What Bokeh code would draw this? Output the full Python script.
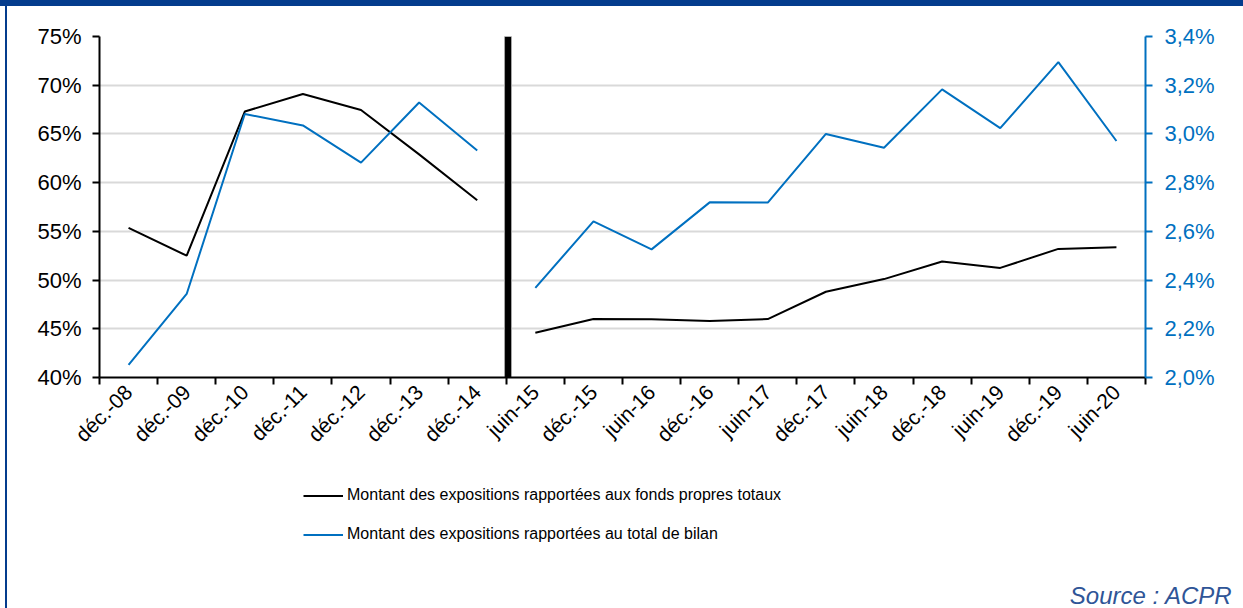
import math
from bokeh.plotting import figure
from bokeh.layouts import column, row
from bokeh.models import (Range1d, LinearAxis, FixedTicker, Legend, LegendItem,
                          Title, Div, Spacer)
from bokeh.embed import file_html
from bokeh.resources import INLINE

# ---------------- data ----------------
categories = ["déc.-08", "déc.-09", "déc.-10", "déc.-11", "déc.-12", "déc.-13", "déc.-14",
              "juin-15", "déc.-15", "juin-16", "déc.-16", "juin-17", "déc.-17", "juin-18",
              "déc.-18", "juin-19", "déc.-19", "juin-20"]
fonds_propres = [55.35, 52.5, 67.3, 69.1, 67.45, 62.9, 58.2,
                 44.6, 46.0, 45.98, 45.8, 46.0, 48.8, 50.1, 51.9, 51.25, 53.2, 53.36]
total_bilan = [2.052, 2.343, 3.082, 3.035, 2.882, 3.129, 2.932,
               2.368, 2.641, 2.526, 2.719, 2.718, 3.0, 2.943, 3.183, 3.024, 3.295, 2.971]
split_index = 7  # break between déc.-14 and juin-15
left_ticks = [40, 45, 50, 55, 60, 65, 70, 75]
left_tick_labels = ["40%", "45%", "50%", "55%", "60%", "65%", "70%", "75%"]
right_ticks = [2.0, 2.2, 2.4, 2.6, 2.8, 3.0, 3.2, 3.4]
right_tick_labels = ["2,0%", "2,2%", "2,4%", "2,6%", "2,8%", "3,0%", "3,2%", "3,4%"]
series_names = ["Montant des expositions rapportées aux fonds propres totaux",
                "Montant des expositions rapportées au total de bilan"]
source_text = "Source : ACPR"

# ---------------- styles ----------------
FONT = "Liberation Sans"
BLUE = "#0070C0"
FRAME = "#043C8D"
PAGE_W, PAGE_H = 1243, 608
BAR_H = 6
W = PAGE_W - 7
H1 = 460
H2 = PAGE_H - BAR_H - H1
SRC_PANEL = 28

n = len(categories)
xc = [i + 0.5 for i in range(n)]

p = figure(width=W, height=H1, output_backend="svg", toolbar_location=None,
           x_range=Range1d(0, n), y_range=Range1d(left_ticks[0], left_ticks[-1]),
           min_border_left=92, min_border_right=98, min_border_top=30, min_border_bottom=89)
p.title = None
p.extra_y_ranges = {"right": Range1d(right_ticks[0], right_ticks[-1])}
p.outline_line_color = None
p.background_fill_color = "white"
p.border_fill_color = "white"

# grid
yt = FixedTicker(ticks=left_ticks)
p.xgrid.grid_line_color = None
p.ygrid.ticker = yt
p.ygrid.grid_line_color = "#d9d9d9"
p.ygrid.grid_line_width = 2

# left axis
ya = p.yaxis[0]
ya.ticker = yt
ya.major_label_overrides = {t: l for t, l in zip(left_ticks, left_tick_labels)}
ya.major_label_text_font = FONT
ya.major_label_text_font_size = "22px"
ya.major_label_text_color = "black"
ya.axis_line_color = "black"
ya.axis_line_width = 2
ya.major_tick_line_color = "black"
ya.major_tick_line_width = 2
ya.major_tick_out = 7
ya.major_tick_in = 0
ya.minor_tick_line_color = None
ya.major_label_standoff = 11

# right axis
ra = LinearAxis(y_range_name="right", ticker=FixedTicker(ticks=right_ticks))
ra.major_label_overrides = {t: l for t, l in zip(right_ticks, right_tick_labels)}
ra.major_label_text_font = FONT
ra.major_label_text_font_size = "22px"
ra.major_label_text_color = BLUE
ra.axis_line_color = BLUE
ra.axis_line_width = 2
ra.major_tick_line_color = BLUE
ra.major_tick_line_width = 2
ra.major_tick_out = 7
ra.major_tick_in = 0
ra.minor_tick_line_color = None
ra.major_label_standoff = 12
p.add_layout(ra, "right")

# x axis: labels at centres, ticks at boundaries
xa = p.xaxis[0]
xa.ticker = FixedTicker(ticks=xc, minor_ticks=list(range(n + 1)))
xa.major_label_overrides = {x: c for x, c in zip(xc, categories)}
xa.major_label_orientation = math.pi / 4
xa.major_label_text_font = FONT
xa.major_label_text_font_size = "21px"
xa.major_label_text_color = "black"
xa.major_label_standoff = 4
xa.axis_line_color = "black"
xa.axis_line_width = 2
xa.major_tick_line_color = None
xa.minor_tick_line_color = "black"
xa.minor_tick_line_width = 2
xa.minor_tick_out = 7
xa.minor_tick_in = 0

# separator bar between the two periods
p.vbar(x=[split_index + 0.03], width=0.12, bottom=left_ticks[0], top=left_ticks[-1],
       fill_color="black", line_color="#a6a6a6", line_width=1)

# series
p.line(xc[:split_index], fonds_propres[:split_index], line_color="black", line_width=2)
p.line(xc[split_index:], fonds_propres[split_index:], line_color="black", line_width=2)
p.line(xc[:split_index], total_bilan[:split_index], line_color=BLUE, line_width=2,
       y_range_name="right")
p.line(xc[split_index:], total_bilan[split_index:], line_color=BLUE, line_width=2,
       y_range_name="right")

# ---------------- legend + source panel ----------------
q = figure(width=W, height=H2, output_backend="svg", toolbar_location=None,
           x_range=Range1d(0, 1), y_range=Range1d(0, 1),
           x_axis_type=None, y_axis_type=None,
           min_border_left=0, min_border_right=0, min_border_top=0,
           min_border_bottom=SRC_PANEL)
q.title = None
q.outline_line_color = None
q.background_fill_color = "white"
q.border_fill_color = "white"

# legend keys: the same series, lying outside this panel's (empty) view
k1 = q.line(xc, fonds_propres, line_color="black", line_width=2)
k2 = q.line(xc, total_bilan, line_color=BLUE, line_width=2)
legend = Legend(items=[LegendItem(label=series_names[0], renderers=[k1]),
                       LegendItem(label=series_names[1], renderers=[k2])],
                location=(204, 25.5), orientation="vertical")
legend.label_text_font = FONT
legend.label_text_font_size = "16px"
legend.label_text_color = "black"
legend.glyph_width = 40
legend.glyph_height = 39
legend.label_height = 39
legend.spacing = 0
legend.padding = 0
legend.margin = 0
legend.label_standoff = 4
legend.background_fill_alpha = 0
legend.border_line_color = None
q.add_layout(legend)

q.add_layout(Title(text=source_text, align="right", text_font=FONT, text_font_size="24px",
                   text_font_style="italic", text_color="#2F5597", offset=-87, standoff=0),
             "below")

# frame decoration (dark blue band on top, thin line on the left)
top_bar = Div(width=PAGE_W, height=BAR_H, margin=0,
              styles={"background-color": FRAME})
left_line = Div(width=2, height=H1 + H2, margin=0, styles={"background-color": FRAME})
page = column(top_bar,
              row(Spacer(width=5, height=H1 + H2, margin=0), left_line,
                  column(p, q, spacing=0), spacing=0),
              spacing=0)

open("out.html", "w").write(file_html(page, INLINE))
